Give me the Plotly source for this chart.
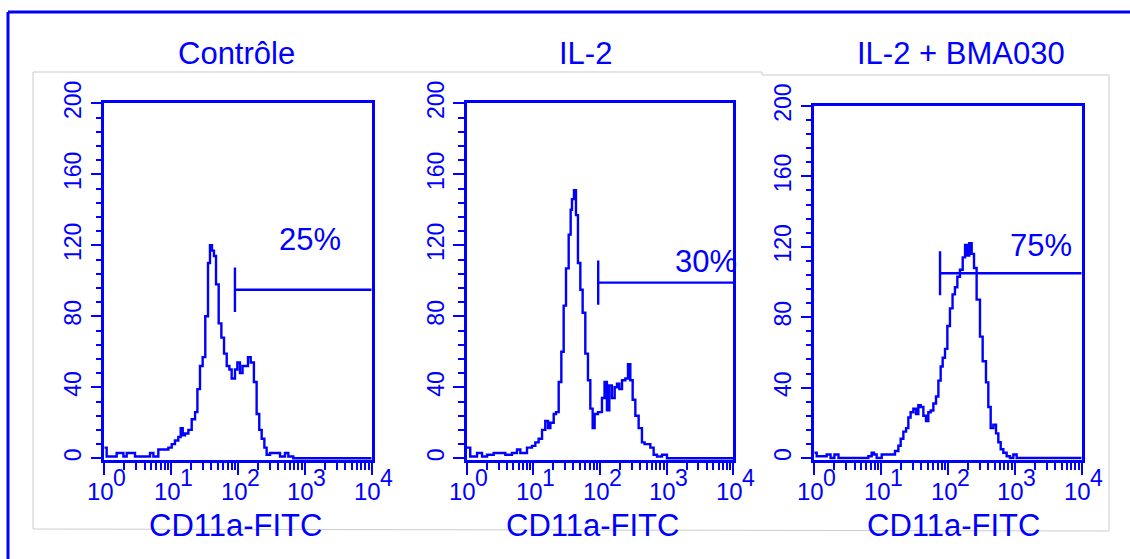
import numpy as np
import plotly.graph_objects as go

# ---------------- data ----------------
titles = ["Contrôle", "IL-2", "IL-2 + BMA030"]
x_label = "CD11a-FITC"

ctrl_fl = [1.0, 1.085, 1.53, 1.93, 2.16, 2.88, 4.83, 5.42, 6.43, 9.08, 10.2, 11.4, 12.8, 13.9,
           14.9, 16.1, 18.1, 20.3, 22.8, 24.7, 27.0, 29.6, 32.4, 35.6, 38.1, 40.8, 43.7, 46.9,
           51.4, 56.4, 61.8, 67.8, 74.3, 80.4, 90.2, 97.8, 107, 117, 141, 155, 173, 190, 208,
           226, 248, 268, 301, 425, 504, 566, 672, 10000]
ctrl_count = [6, 1, 3, 1, 3, 1, 3, 1, 5, 6, 8, 10, 12, 17,
              13, 14, 16, 22, 26, 39, 52, 57, 80, 110, 120, 117, 114, 98,
              76, 68, 59, 52, 50, 45, 50, 54, 48, 52, 57, 54, 43, 25, 16,
              11, 6, 2, 3, 1, 3, 1, 0, 0]

il2_fl = [1.0, 1.13, 1.43, 1.70, 2.02, 2.54, 3.80, 4.78, 5.68, 6.38, 8.03, 9.54, 10.7, 12.0,
          13.5, 15.1, 16.6, 18.0, 20.2, 21.9, 24.0, 26.3, 28.5, 30.9, 33.9, 36.3, 38.0, 40.7,
          43.6, 46.7, 50.7, 54.9, 60.2, 66.0, 71.6, 77.6, 83.1, 93.3, 107, 117, 127, 138, 151,
          166, 180, 195, 214, 240, 263, 285, 309, 339, 380, 426, 467, 569, 638, 716, 851, 1011,
          10000]
il2_count = [6, 1, 3, 1, 2, 3, 2, 3, 5, 3, 6, 7, 9, 11,
             16, 21, 17, 20, 25, 26, 43, 60, 86, 107, 126, 140, 146, 151,
             137, 110, 95, 82, 59, 44, 28, 17, 25, 26, 34, 43, 27, 41, 34,
             40, 42, 39, 44, 45, 53, 44, 33, 24, 17, 9, 8, 6, 2, 1, 2, 0,
             0]

bma_fl = [1.0, 1.085, 1.53, 1.75, 2.0, 2.3, 6.43, 7.21, 7.82, 8.57, 10.2, 13.6, 16.1, 18.1,
          19.6, 21.5, 23.6, 25.5, 27.6, 30.3, 33.2, 36.0, 39.0, 42.8, 46.9, 50.8, 55.1, 60.4,
          66.2, 71.8, 77.7, 83.2, 90.2, 97.8, 107, 117, 127, 138, 151, 166, 180, 195, 208,
          226, 245, 268, 301, 330, 370, 401, 435, 477, 523, 566, 614, 672, 754, 846, 949, 1064,
          10000]
bma_count = [3, 1, 2, 0, 2, 0, 1, 3, 2, 0, 2, 2, 4, 7,
             11, 15, 17, 23, 26, 28, 25, 30, 29, 24, 21, 26, 27, 31,
             35, 44, 52, 57, 62, 75, 85, 93, 97, 103, 107, 114, 121, 115, 122,
             116, 108, 90, 69, 55, 43, 29, 17, 19, 14, 9, 5, 3, 1, 0, 2, 0,
             0]

gate_start = [90, 94, 76]
gate_level = [95, 99, 105]
gate_pct = ["25%", "30%", "75%"]

y_ticks = [0, 40, 80, 120, 160, 200]
x_ticks = [1, 10, 100, 1000, 10000]
x_tick_base = "10"
x_tick_exp = ["0", "1", "2", "3", "4"]

# ---------------- layout / styles ----------------
W, H = 1130, 559
BLUE = "#0000ff"
GRAY = "#cccccc"
TXT_FONT = "Liberation Sans, Arial, sans-serif"
TICK_FONT = "Liberation Sans Narrow, Arial Narrow, Liberation Sans, sans-serif"

fl_series = [ctrl_fl, il2_fl, bma_fl]
cnt_series = [ctrl_count, il2_count, bma_count]

# panel boxes in pixels: (left, right, bottom, top)
panel_px = [(104.3, 371.7, 460.1, 103.3),
            (466.7, 733.3, 460.1, 103.3),
            (814.3, 1081.7, 459.8, 106.0)]
title_px = [(236.5, 54), (585.7, 54), (961, 54)]
xlabel_px = [(235, 525), (592, 525), (953, 525)]
pct_pos = [(1175, 123.5), (3860, 111), (2440, 121)]
gate_half = 12.5
base_y_px, exp_y_px = 491, 477.5
base_dx, exp_dx = -4, 15


def px_x(p):
    return p / W


def px_y(p):
    return 1 - p / H


fig = go.Figure()
minor_x = [m * 10 ** k for k in range(4) for m in range(2, 10)]

annotations = []
for i in range(3):
    n = "" if i == 0 else str(i + 1)
    xa, ya = "x" + n, "y" + n
    l, r, b, t = panel_px[i]
    fig.add_trace(go.Scatter(x=fl_series[i], y=cnt_series[i], mode="lines",
                             line=dict(color=BLUE, width=2.4, shape="hv"),
                             xaxis=xa, yaxis=ya, showlegend=False, hoverinfo="skip"))
    g, lv = gate_start[i], gate_level[i]
    fig.add_trace(go.Scatter(x=[g, g, None, g, 10000],
                             y=[lv - gate_half, lv + gate_half, None, lv, lv],
                             mode="lines", line=dict(color=BLUE, width=2.4),
                             xaxis=xa, yaxis=ya, showlegend=False, hoverinfo="skip"))
    fig.layout["xaxis" + n] = dict(
        type="log", range=[0, 4], domain=[px_x(l), px_x(r)], anchor=ya,
        automargin=False,
        showline=True, mirror=True, linecolor=BLUE, linewidth=2.5,
        showgrid=False, zeroline=False,
        ticks="outside", ticklen=12, tickwidth=2, tickcolor=BLUE,
        tickmode="array", tickvals=x_ticks, showticklabels=False,
        minor=dict(tickmode="array", tickvals=minor_x, ticks="outside",
                   ticklen=7, tickwidth=2, tickcolor=BLUE, showgrid=False),
    )
    fig.layout["yaxis" + n] = dict(
        range=[-1, 200], domain=[px_y(b), px_y(t)], anchor=xa,
        automargin=False,
        showline=True, mirror=True, linecolor=BLUE, linewidth=2.5,
        showgrid=False, zeroline=False,
        ticks="outside", ticklen=11, tickwidth=2, tickcolor=BLUE,
        tickmode="array", tickvals=y_ticks, tickangle=-90,
        ticklabelstandoff=0,
        tickfont=dict(family=TICK_FONT, size=23, color=BLUE),
        minor=dict(dtick=8, tick0=0, ticks="outside", ticklen=6, tickwidth=2,
                   tickcolor=BLUE, showgrid=False),
    )
    # x tick labels: 10 with exponent
    for tv, ex in zip(x_ticks, x_tick_exp):
        annotations.append(dict(xref=xa, yref="paper", x=np.log10(tv), y=px_y(base_y_px),
                                xshift=base_dx, text=x_tick_base, showarrow=False,
                                xanchor="center", yanchor="middle",
                                font=dict(family=TICK_FONT, size=24, color=BLUE)))
        annotations.append(dict(xref=xa, yref="paper", x=np.log10(tv), y=px_y(exp_y_px),
                                xshift=exp_dx, text=ex, showarrow=False,
                                xanchor="center", yanchor="middle",
                                font=dict(family=TICK_FONT, size=23, color=BLUE)))
    annotations.append(dict(xref="paper", yref="paper", x=px_x(title_px[i][0]),
                            y=px_y(title_px[i][1]), text=titles[i], showarrow=False,
                            xanchor="center", yanchor="middle",
                            font=dict(family=TXT_FONT, size=31, color=BLUE)))
    annotations.append(dict(xref="paper", yref="paper", x=px_x(xlabel_px[i][0]),
                            y=px_y(xlabel_px[i][1]), text=x_label, showarrow=False,
                            xanchor="center", yanchor="middle",
                            font=dict(family=TXT_FONT, size=31, color=BLUE)))
    annotations.append(dict(xref=xa, yref=ya, x=np.log10(pct_pos[i][0]), y=pct_pos[i][1],
                            text=gate_pct[i], showarrow=False,
                            xanchor="center", yanchor="middle",
                            font=dict(family=TXT_FONT, size=31, color=BLUE)))

shapes = [
    # outer blue frame (top and left visible)
    dict(type="line", xref="paper", yref="paper", x0=px_x(8), x1=1.0, y0=px_y(12), y1=px_y(12),
         line=dict(color=BLUE, width=3)),
    dict(type="line", xref="paper", yref="paper", x0=px_x(8), x1=px_x(8), y0=px_y(12), y1=0.0,
         line=dict(color=BLUE, width=3)),
    # faint gray picture frames
    dict(type="path", xref="paper", yref="paper", layer="below",
         path=(f"M {px_x(33)},{px_y(529)} L {px_x(33)},{px_y(72)} L {px_x(762)},{px_y(72)} "
               f"L {px_x(762)},{px_y(75)} L {px_x(1109)},{px_y(75)} L {px_x(1109)},{px_y(531)} "
               f"L {px_x(33)},{px_y(529)}"),
         line=dict(color=GRAY, width=1)),
]

fig.update_layout(
    width=W, height=H, margin=dict(l=0, r=0, t=0, b=0, pad=0, autoexpand=False),
    paper_bgcolor="white", plot_bgcolor="white",
    annotations=annotations, shapes=shapes, showlegend=False,
)

fig.write_html("out.html")
